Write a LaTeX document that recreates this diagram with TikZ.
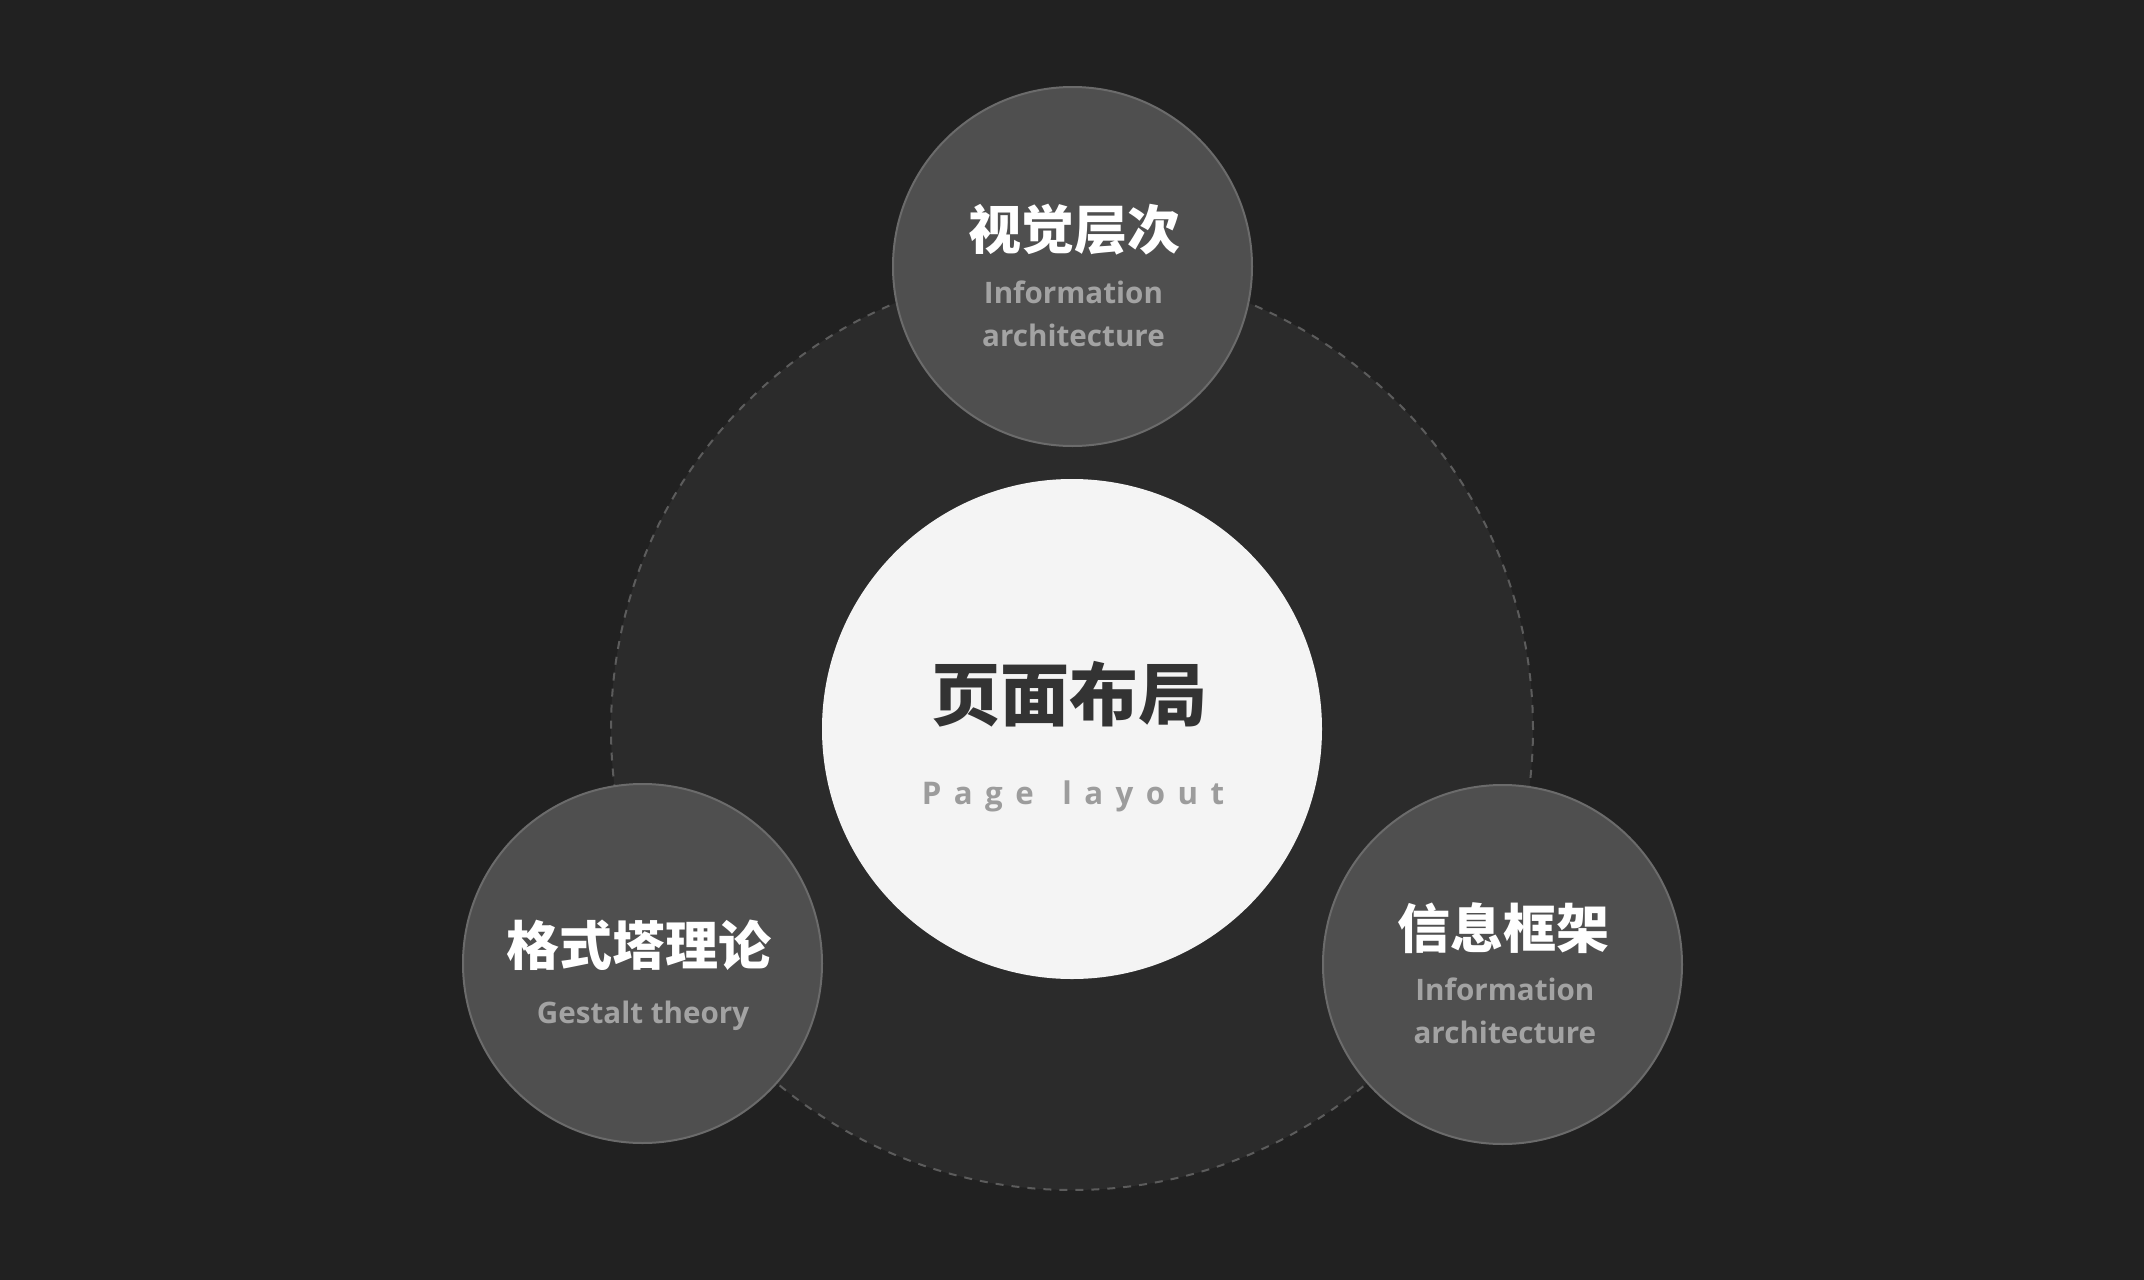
\documentclass[tikz,border=0pt]{standalone}
\usepackage{fontspec}
\setmainfont{Open Sans}
\newfontfamily\cjk{Noto Sans CJK SC}
\newfontfamily\spaced[LetterSpace=40]{Open Sans}
\definecolor{bg}{HTML}{212121}
\definecolor{ringfill}{HTML}{2B2B2B}
\definecolor{ringline}{HTML}{5C5C5C}
\definecolor{smallfill}{HTML}{4F4F4F}
\definecolor{smallline}{HTML}{6B6B6B}
\definecolor{corefill}{HTML}{F4F4F4}
\definecolor{coretext}{HTML}{333333}
\definecolor{subgrey}{HTML}{A3A3A3}
\definecolor{coresub}{HTML}{9C9C9C}
\tikzset{
  ring/.style={circle,fill=ringfill,draw=ringline,line width=1pt,dash pattern=on 4pt off 4pt,minimum size=461pt,inner sep=0pt},
  core/.style={circle,fill=corefill,minimum size=250pt,inner sep=0pt},
  topic/.style={circle,fill=smallfill,draw=smallline,line width=1pt,minimum size=179.5pt,inner sep=0pt},
  cntitle/.style={font=\cjk\bfseries\fontsize{26.5pt}{30pt}\selectfont,text=white,anchor=base,inner sep=0pt},
  entitle/.style={font=\bfseries\fontsize{14.8pt}{18pt}\selectfont,text=subgrey,anchor=base,inner sep=0pt},
}
\begin{document}
\begin{tikzpicture}[x=0.5pt,y=-0.5pt]
\fill[bg] (0,0) rectangle (2144,1280);
\useasboundingbox (0,0) rectangle (2144,1280);
\node[ring] (ring) at (1072,729) {};
\node[core] (core) at (1072,729) {};
\node[topic] (vis) at (1072.5,266.5) {};
\node[topic] (ges) at (642.5,963.5) {};
\node[topic] (info) at (1502.5,964.5) {};
% center texts
\node[cntitle,text=coretext,font=\cjk\bfseries\fontsize{34.5pt}{40pt}\selectfont] (coreT) at ([xshift=-1.5pt,yshift=4.5pt]core.center) {页面布局};
\node[anchor=base,inner sep=0pt,text=coresub,font=\spaced\bfseries\fontsize{15.6pt}{20pt}\selectfont] (coreS) at ([xshift=0.5pt,yshift=-37.5pt]core.center) {Page\hspace{4pt} layout};
% top
\node[cntitle] (visT) at ([xshift=1pt,yshift=8.5pt]vis.center) {视觉层次};
\node[entitle] (visS1) at ([xshift=0.5pt,yshift=-18.5pt]vis.center) {Information};
\node[entitle] (visS2) at ([xshift=0.5pt,yshift=-40pt]vis.center) {architecture};
% left
\node[cntitle] (gesT) at ([xshift=-2pt,yshift=-0.8pt]ges.center) {格式塔理论};
\node[entitle] (gesS) at ([xshift=0.3pt,yshift=-29.8pt]ges.center) {Gestalt theory};
% right
\node[cntitle] (infoT) at ([xshift=0.3pt,yshift=8pt]info.center) {信息框架};
\node[entitle] (infoS1) at ([xshift=1.2pt,yshift=-18pt]info.center) {Information};
\node[entitle] (infoS2) at ([xshift=1.2pt,yshift=-39.7pt]info.center) {architecture};
\end{tikzpicture}
\end{document}
